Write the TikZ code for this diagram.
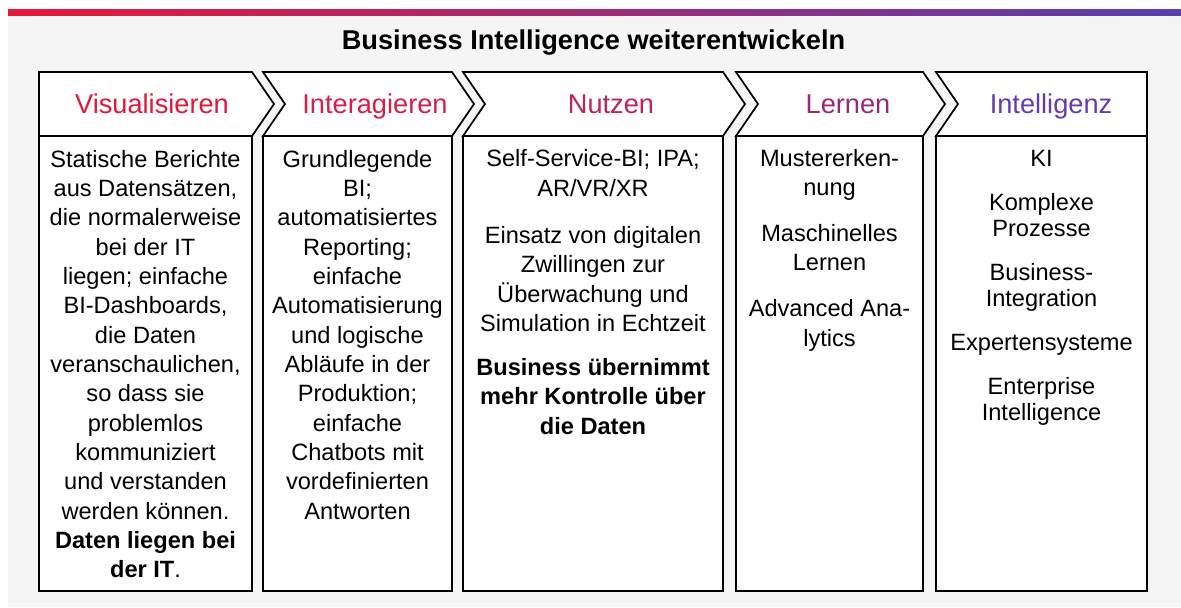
\documentclass[tikz,border=0pt]{standalone}
\usepackage{fontspec}
\setmainfont{Liberation Sans}
\definecolor{bg}{RGB}{245,245,245}
\definecolor{barL}{RGB}{229,25,58}
\definecolor{barR}{RGB}{88,62,175}
\definecolor{cA}{RGB}{226,24,58}
\definecolor{cB}{RGB}{214,30,76}
\definecolor{cC}{RGB}{192,34,92}
\definecolor{cD}{RGB}{152,40,122}
\definecolor{cE}{RGB}{104,58,170}
\begin{document}
\begin{tikzpicture}[x=0.75pt,y=-0.75pt,
  box/.style={draw=black,line width=1.3pt,fill=white,line join=miter},
  head/.style={font=\fontsize{20.4}{24}\selectfont,anchor=base,inner sep=0pt},
  body/.style={font=\fontsize{17.7}{22}\selectfont,anchor=base,align=center,inner sep=0pt},
]
\useasboundingbox (0,0) rectangle (1181,607);
\fill[white] (0,0) rectangle (1181,607);
\fill[bg] (8,9) rectangle (1181,607);
\shade[left color=barL,right color=barR] (8,9) rectangle (1181,15);
\node[font=\bfseries\fontsize{20.4}{24}\selectfont,anchor=base,inner sep=0pt] (title) at (593.5,49) {Business Intelligence weiterentwickeln};

% body boxes
\draw[box] (39,136) rectangle (252,591);
\draw[box] (263,136) rectangle (452,591);
\draw[box] (463,136) rectangle (723,591);
\draw[box] (736,136) rectangle (923,591);
\draw[box] (936,136) rectangle (1147,591);

% header chevrons
\draw[box] (39,72) -- (252,72) -- (274,104) -- (252,136) -- (39,136) -- cycle;
\draw[box] (263,72) -- (452,72) -- (474,104) -- (452,136) -- (263,136) -- (285,104) -- cycle;
\draw[box] (463,72) -- (723,72) -- (745,104) -- (723,136) -- (463,136) -- (485,104) -- cycle;
\draw[box] (736,72) -- (923,72) -- (945,104) -- (923,136) -- (736,136) -- (758,104) -- cycle;
\draw[box] (936,72) -- (1147,72) -- (1147,136) -- (936,136) -- (958,104) -- cycle;

% header texts
\node[head,text=cA] (h1) at (152,113) {Visualisieren};
\node[head,text=cB] (h2) at (375,113) {Interagieren};
\node[head,text=cC] (h3) at (611,113) {Nutzen};
\node[head,text=cD] (h4) at (848,113) {Lernen};
\node[head,text=cE] (h5) at (1051,113) {Intelligenz};

% body texts (anchored at the baseline of their last line)
\node[body] (b1) at (145.5,577.7) {Statische Berichte\\aus Datensätzen,\\die normalerweise\\bei der IT\\liegen; einfache\\BI-Dashboards,\\die Daten\\veranschaulichen,\\so dass sie\\problemlos\\kommuniziert\\und verstanden\\werden können.\\\textbf{Daten liegen bei}\\\textbf{der IT}.};
\node[body] (b2) at (357.5,519) {Grundlegende\\BI;\\automatisiertes\\Reporting;\\einfache\\Automatisierung\\und logische\\Abläufe in der\\Produktion;\\einfache\\Chatbots mit\\vordefinierten\\Antworten};
\node[body] (b3) at (593,434) {Self-Service-BI; IPA;\\AR/VR/XR\\[13.5pt]Einsatz von digitalen\\Zwillingen zur\\Überwachung und\\Simulation in Echtzeit\\[11pt]\textbf{Business übernimmt}\\\textbf{mehr Kontrolle über}\\\textbf{die Daten}};
\node[body] (b4) at (829.5,346) {Mustererken-\\nung\\[12.5pt]Maschinelles\\Lernen\\[12.5pt]Advanced Ana-\\lytics};
\node[body,font=\fontsize{17.7}{19.5}\selectfont] (b5) at (1041.5,420) {KI\\[13.5pt]Komplexe\\Prozesse\\[13.5pt]Business-\\Integration\\[13.5pt]Expertensysteme\\[13.5pt]Enterprise\\Intelligence};
\end{tikzpicture}
\end{document}
